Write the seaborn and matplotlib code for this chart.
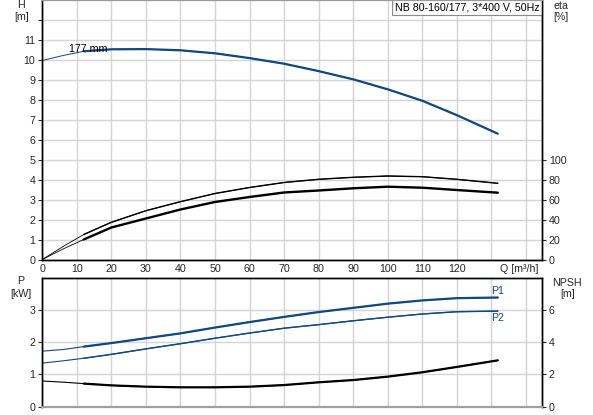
import matplotlib
matplotlib.use("Agg")
import matplotlib.pyplot as plt
import seaborn as sns
import pandas as pd
import numpy as np

# ---- data ----
q_h = [0, 6, 12, 20, 30, 40, 50, 60, 70, 80, 90, 100, 110, 120, 131.9]
head = [9.95, 10.20, 10.41, 10.51, 10.52, 10.46, 10.31, 10.07, 9.79, 9.42, 9.01, 8.51, 7.94, 7.22, 6.29]

q_eta = [0, 6, 12, 20, 30, 40, 50, 60, 70, 80, 90, 100, 110, 120, 131.9]
eta_upper = [0, 13, 25, 37.2, 48.8, 57.8, 66.0, 72.0, 77.0, 80.2, 82.2, 83.5, 82.8, 80.2, 76.2]
eta_lower = [0, 10.5, 20.0, 32.0, 41.0, 50.0, 57.5, 62.5, 67.0, 69.0, 71.2, 72.8, 71.8, 69.5, 66.8]

q_p = [0, 6, 12, 20, 30, 40, 50, 60, 70, 80, 90, 100, 110, 120, 131.9]
p1 = [1.72, 1.77, 1.86, 1.97, 2.12, 2.27, 2.45, 2.62, 2.78, 2.93, 3.06, 3.19, 3.29, 3.36, 3.38]
p2 = [1.35, 1.42, 1.50, 1.62, 1.79, 1.95, 2.12, 2.28, 2.43, 2.54, 2.66, 2.77, 2.87, 2.94, 2.96]
npsh = [1.59, 1.52, 1.43, 1.32, 1.24, 1.20, 1.20, 1.24, 1.34, 1.51, 1.65, 1.86, 2.13, 2.46, 2.87]

x_ticks = [0, 10, 20, 30, 40, 50, 60, 70, 80, 90, 100, 110, 120, 130, 140]
x_labels = ["0", "10", "20", "30", "40", "50", "60", "70", "80", "90", "100", "110", "120", "", ""]
h_ticks = [0, 1, 2, 3, 4, 5, 6, 7, 8, 9, 10, 11, 12]
h_labels = ["0", "1", "2", "3", "4", "5", "6", "7", "8", "9", "10", "11", ""]
eta_ticks = [0, 20, 40, 60, 80, 100]
p_ticks = [0, 1, 2, 3]
npsh_ticks = [0, 2, 4, 6]

title_text = "NB 80-160/177, 3*400 V, 50Hz"
curve_label = "177 mm"

# ---- style ----
sns.set_style("white")
plt.rcParams['font.family'] = ['Liberation Sans', 'DejaVu Sans']
FS = 7.7
plt.rcParams['font.size'] = FS

BLUE = "#12487f"
GRID = "#d2d4d6"

W, H = 593, 415
fig = plt.figure(figsize=(W / 100, H / 100), dpi=100)

def fx(px):
    return px / W

def fy(py):
    return 1 - py / H

left, right = 42.3, 542.0
ax1 = fig.add_axes([fx(left), fy(259.5), fx(right - left), 260 / H])
ax2 = fig.add_axes([fx(left), fy(406.7), fx(right - left), 129.2 / H])

XMAX = 144.7

def draw(ax, q, v, color, lw_thin, lw_thick, split=12):
    df = pd.DataFrame({"Q": q, "v": v})
    sns.lineplot(data=df, x="Q", y="v", ax=ax, color=color, lw=lw_thin,
                 sort=False, estimator=None)
    dft = df[df["Q"] >= split]
    sns.lineplot(data=dft, x="Q", y="v", ax=ax, color=color, lw=lw_thick,
                 sort=False, estimator=None)

# ---------- top axes ----------
ax1.set_xlim(0, XMAX)
ax1.set_ylim(0, 13)
ax_eta = ax1.twinx()
ax_eta.set_ylim(0, 260)

for x in x_ticks:
    ax1.axvline(x, color=GRID, lw=1.0, zorder=0)
for y in h_ticks:
    ax1.axhline(y, color=GRID, lw=1.0, zorder=0)

draw(ax1, q_h, head, BLUE, 0.7, 1.6)
draw(ax_eta, q_eta, eta_upper, "black", 0.6, 1.0)
draw(ax_eta, q_eta, eta_lower, "black", 0.6, 1.7)

ax1.set_xticks(x_ticks)
ax1.set_xticklabels(x_labels)
ax1.set_yticks(h_ticks)
ax1.set_yticklabels(h_labels)
ax_eta.set_yticks(eta_ticks)
for a in (ax1, ax_eta):
    a.set_xlabel("")
    a.set_ylabel("")
ax1.tick_params(axis="x", length=0, pad=3, labelsize=FS)
ax1.tick_params(axis="y", left=True, length=3, width=0.8, pad=2, labelsize=FS)
ax_eta.tick_params(axis="y", right=True, length=3, width=0.8, pad=2, labelsize=FS)

for a in (ax1, ax_eta):
    for s in ("left", "right", "bottom"):
        a.spines[s].set_color("black")
        a.spines[s].set_linewidth(1.0)
    a.spines["top"].set_color("#9a9a9a")
    a.spines["top"].set_linewidth(0.8)

ax1.text(7.7, 10.55, curve_label, ha="left", va="center", fontsize=FS, color="black")
ax1.text(0.9946, 0.988, title_text, transform=ax1.transAxes, ha="right", va="top",
         fontsize=FS, color="black",
         bbox=dict(boxstyle="square,pad=0.22", fc="white", ec="#8a8a8a", lw=0.8))

# ---------- bottom axes ----------
ax2.set_xlim(0, XMAX)
ax2.set_ylim(0, 4)
ax_np = ax2.twinx()
ax_np.set_ylim(0, 8)

for x in x_ticks:
    ax2.axvline(x, color=GRID, lw=1.0, zorder=0)
for y in p_ticks[1:]:
    ax2.axhline(y, color=GRID, lw=1.0, zorder=0)

draw(ax2, q_p, p1, BLUE, 0.8, 1.6)
draw(ax2, q_p, p2, BLUE, 0.8, 1.0)
draw(ax_np, q_p, npsh, "black", 0.8, 1.6)

ax2.set_xticks(x_ticks)
ax2.set_xticklabels([])
ax2.set_yticks(p_ticks)
ax_np.set_yticks(npsh_ticks)
for a in (ax2, ax_np):
    a.set_xlabel("")
    a.set_ylabel("")
ax2.tick_params(axis="x", length=0)
ax2.tick_params(axis="y", left=True, length=3, width=0.8, pad=2, labelsize=FS)
ax_np.tick_params(axis="y", right=True, length=3, width=0.8, pad=2, labelsize=FS)

for a in (ax2, ax_np):
    for s in ("left", "right", "top"):
        a.spines[s].set_color("black")
        a.spines[s].set_linewidth(1.0)
    a.spines["bottom"].set_color("#a0a0a0")
    a.spines["bottom"].set_linewidth(1.5)

ax2.text(129.9, 3.58, "P1", ha="left", va="center", fontsize=FS, color=BLUE)
ax2.text(129.9, 2.75, "P2", ha="left", va="center", fontsize=FS, color=BLUE)

# ---------- axis labels ----------
fig.text(fx(21), fy(5.5), "H", ha="center", va="center", fontsize=FS)
fig.text(fx(21.5), fy(17.5), "[m]", ha="center", va="center", fontsize=FS)
fig.text(fx(561), fy(6), "eta", ha="center", va="center", fontsize=FS)
fig.text(fx(561), fy(17.5), "[%]", ha="center", va="center", fontsize=FS)
fig.text(fx(21), fy(281), "P", ha="center", va="center", fontsize=FS)
fig.text(fx(20.5), fy(294), "[kW]", ha="center", va="center", fontsize=FS)
fig.text(fx(567), fy(282.5), "NPSH", ha="center", va="center", fontsize=FS)
fig.text(fx(567.5), fy(294), "[m]", ha="center", va="center", fontsize=FS)
fig.text(fx(538), fy(269.5), "Q [m³/h]", ha="right", va="center", fontsize=FS)

fig.savefig("out.png", dpi=100)
